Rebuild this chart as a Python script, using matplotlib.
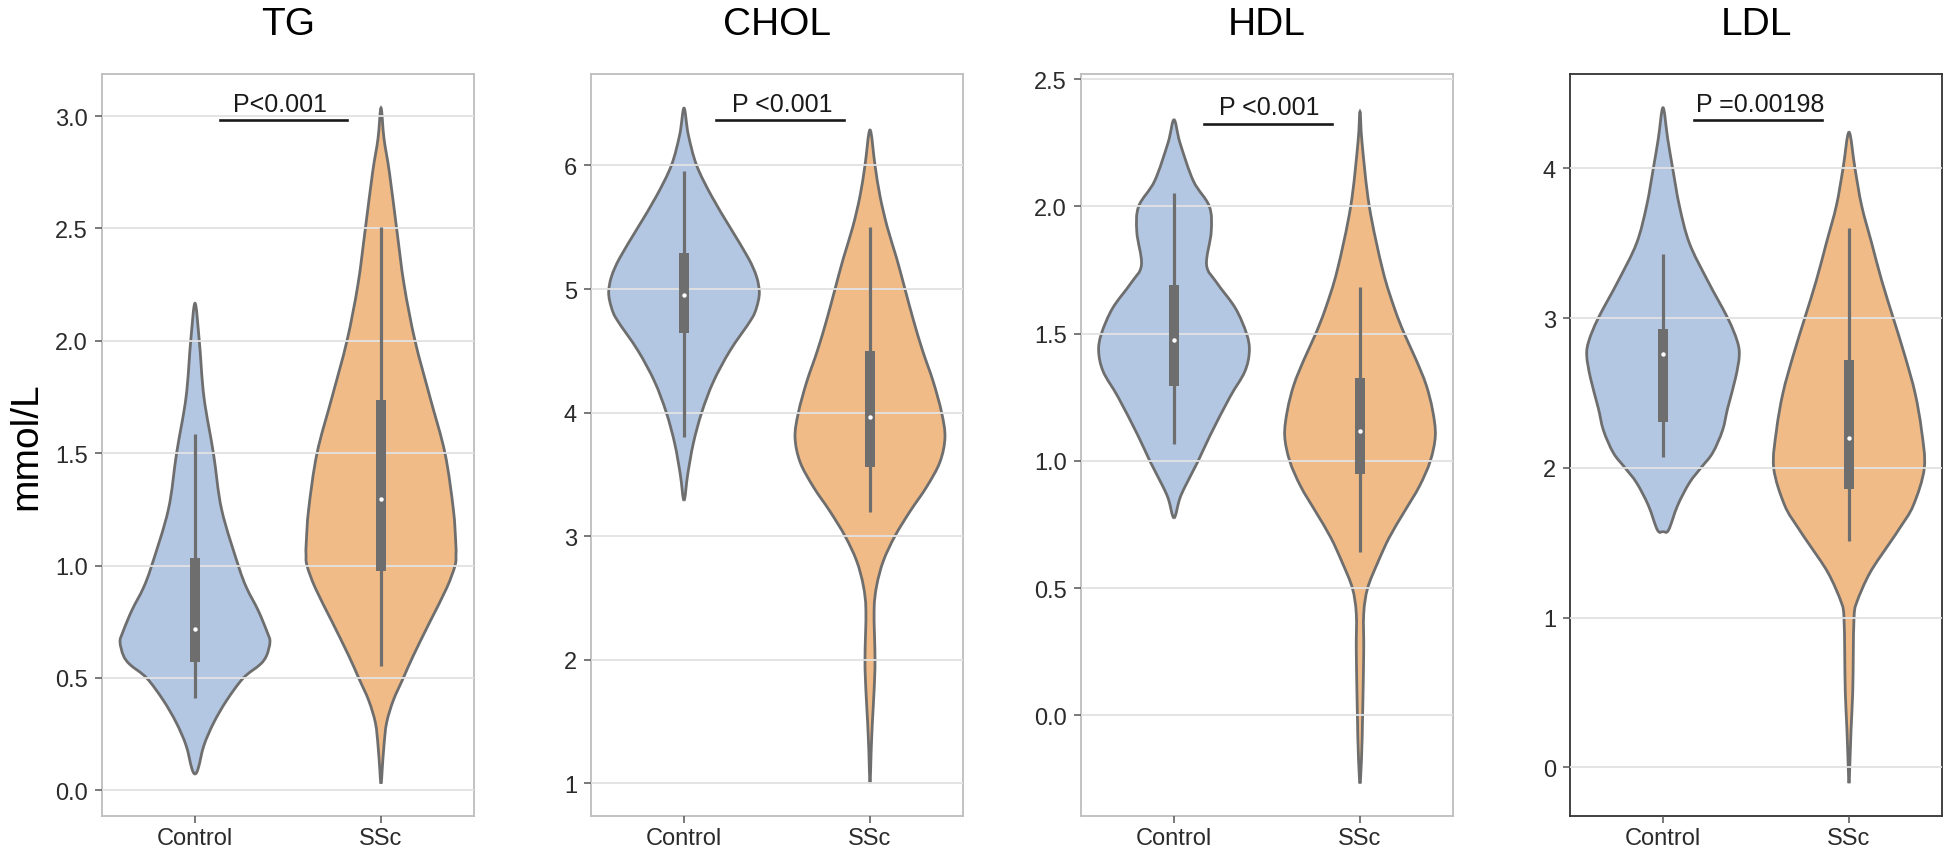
import numpy as np
import matplotlib
matplotlib.use('Agg')
import matplotlib.pyplot as plt
from matplotlib.patches import Rectangle, PathPatch
from matplotlib.path import Path

plt.rcParams['font.family'] = ['Liberation Sans', 'DejaVu Sans']

groups = ['Control', 'SSc']
panels = ['TG', 'CHOL', 'HDL', 'LDL']
pvals = ['P<0.001', 'P <0.001', 'P <0.001', 'P =0.00198']

# violin outlines: y level and half width (category units)
tg_ctrl_y = [0.073, 0.1, 0.2, 0.3, 0.4, 0.5, 0.56, 0.6, 0.66, 0.7, 0.8, 0.9, 1.0, 1.25, 1.5, 1.75, 2.0, 2.167]
tg_ctrl_w = [0, 0.018, 0.048, 0.10, 0.17, 0.26, 0.35, 0.385, 0.403, 0.39, 0.34, 0.278, 0.233, 0.143, 0.099, 0.048, 0.023, 0]
tg_ssc_y = [0.03, 0.1, 0.2, 0.3, 0.4, 0.5, 0.6, 0.75, 0.9, 1.0, 1.05, 1.1, 1.25, 1.5, 1.75, 2.0, 2.25, 2.5, 2.75, 2.9, 3.036]
tg_ssc_w = [0, 0.007, 0.016, 0.03, 0.066, 0.12, 0.174, 0.263, 0.353, 0.398, 0.403, 0.402, 0.389, 0.344, 0.263, 0.183, 0.124, 0.084, 0.045, 0.016, 0]

chol_ctrl_y = [3.29, 3.5, 3.75, 4.0, 4.25, 4.5, 4.75, 4.85, 4.97, 5.1, 5.25, 5.5, 5.75, 6.0, 6.25, 6.464]
chol_ctrl_w = [0, 0.02, 0.05, 0.095, 0.158, 0.247, 0.36, 0.39, 0.405, 0.39, 0.346, 0.247, 0.149, 0.068, 0.023, 0]
chol_ssc_y = [1.0, 1.25, 1.5, 1.75, 2.0, 2.4, 2.6, 2.8, 3.0, 3.2, 3.4, 3.6, 3.8, 4.0, 4.25, 4.5, 4.75, 5.0, 5.25, 5.5, 5.75, 6.0, 6.287]
chol_ssc_w = [0, 0.006, 0.013, 0.022, 0.027, 0.022, 0.036, 0.072, 0.134, 0.215, 0.305, 0.376, 0.403, 0.385, 0.34, 0.283, 0.233, 0.188, 0.143, 0.093, 0.054, 0.027, 0]

hdl_ctrl_y = [0.776, 0.85, 0.9, 1.0, 1.1, 1.25, 1.35, 1.43, 1.5, 1.6, 1.7, 1.77, 1.9, 2.0, 2.1, 2.25, 2.34]
hdl_ctrl_w = [0, 0.03, 0.06, 0.13, 0.194, 0.30, 0.38, 0.405, 0.39, 0.33, 0.23, 0.175, 0.2, 0.19, 0.104, 0.032, 0]
hdl_ssc_y = [-0.267, -0.15, 0.0, 0.25, 0.4, 0.5, 0.6, 0.7, 0.8, 0.9, 1.0, 1.1, 1.2, 1.3, 1.4, 1.5, 1.6, 1.75, 2.0, 2.25, 2.372]
hdl_ssc_w = [0, 0.009, 0.014, 0.02, 0.02, 0.041, 0.095, 0.158, 0.238, 0.319, 0.378, 0.405, 0.39, 0.355, 0.30, 0.238, 0.185, 0.122, 0.05, 0.011, 0]

ldl_ctrl_y = [1.575, 1.585, 1.75, 1.9, 2.0, 2.1, 2.25, 2.4, 2.6, 2.75, 2.85, 3.0, 3.25, 3.5, 3.75, 4.0, 4.2, 4.405]
ldl_ctrl_w = [0, 0.03, 0.079, 0.142, 0.204, 0.267, 0.32, 0.348, 0.39, 0.41, 0.398, 0.348, 0.24, 0.142, 0.088, 0.052, 0.025, 0]
ldl_ssc_y = [-0.106, 0.0, 0.25, 0.5, 0.75, 1.0, 1.1, 1.3, 1.5, 1.6, 1.75, 2.0, 2.25, 2.5, 2.75, 3.0, 3.25, 3.5, 3.75, 4.0, 4.241]
ldl_ssc_w = [0, 0.004, 0.011, 0.02, 0.023, 0.027, 0.041, 0.113, 0.22, 0.274, 0.346, 0.405, 0.39, 0.355, 0.30, 0.238, 0.176, 0.122, 0.068, 0.032, 0]

# box stats: lower whisker, q1, median, q3, upper whisker
tg_box = [[0.413, 0.571, 0.717, 1.032, 1.584], [0.554, 0.976, 1.295, 1.737, 2.507]]
chol_box = [[3.80, 4.644, 4.949, 5.293, 5.956], [3.195, 3.557, 3.968, 4.498, 5.50]]
hdl_box = [[1.067, 1.295, 1.476, 1.69, 2.052], [0.644, 0.947, 1.118, 1.327, 1.683]]
ldl_box = [[2.071, 2.304, 2.757, 2.924, 3.428], [1.513, 1.86, 2.199, 2.72, 3.603]]

# significance bar: x from, x to, y, text x
tg_sig = [0.134, 0.817, 2.983, 0.457]
chol_sig = [0.17, 0.86, 6.367, 0.527]
hdl_sig = [0.16, 0.85, 2.325, 0.514]
ldl_sig = [0.167, 0.855, 4.325, 0.52]

tg_ticks = [0.0, 0.5, 1.0, 1.5, 2.0, 2.5, 3.0]
chol_ticks = [1, 2, 3, 4, 5, 6]
hdl_ticks = [0.0, 0.5, 1.0, 1.5, 2.0, 2.5]
ldl_ticks = [0, 1, 2, 3, 4]

ylims = [(-0.114, 3.187), (0.735, 6.74), (-0.395, 2.52), (-0.325, 4.63)]

violins = [
    [(tg_ctrl_y, tg_ctrl_w), (tg_ssc_y, tg_ssc_w)],
    [(chol_ctrl_y, chol_ctrl_w), (chol_ssc_y, chol_ssc_w)],
    [(hdl_ctrl_y, hdl_ctrl_w), (hdl_ssc_y, hdl_ssc_w)],
    [(ldl_ctrl_y, ldl_ctrl_w), (ldl_ssc_y, ldl_ssc_w)],
]
boxes = [tg_box, chol_box, hdl_box, ldl_box]
sigs = [tg_sig, chol_sig, hdl_sig, ldl_sig]
ticks = [tg_ticks, chol_ticks, hdl_ticks, ldl_ticks]
ticklabels = [['%.1f' % t for t in tg_ticks], [str(t) for t in chol_ticks],
              ['%.1f' % t for t in hdl_ticks], [str(t) for t in ldl_ticks]]

fills = ['#b3c7e3', '#f0bb87']
edge = '#6e6e6e'


def smooth_outline(xs, ys):
    # closed curve through the read points, drawn as bezier segments
    P = np.column_stack([xs, ys])
    n = len(P)
    verts = [P[0]]
    codes = [Path.MOVETO]
    for k in range(n):
        p0, p1, p2, p3 = P[k - 1], P[k], P[(k + 1) % n], P[(k + 2) % n]
        verts += [p1 + (p2 - p0) / 6.0, p2 - (p3 - p1) / 6.0, p2]
        codes += [Path.CURVE4] * 3
    return Path(verts, codes)


fig = plt.figure(figsize=(19.46, 8.54), dpi=100)
W, H = 1946.0, 854.0
lefts = [102, 591, 1081, 1570]

for i in range(4):
    ax = fig.add_axes([lefts[i] / W, (H - 817) / H, 372 / W, 742 / H])

    for j in range(2):
        y = np.array(violins[i][j][0])
        w = np.array(violins[i][j][1])
        # right side going up, left side coming down (tips shared)
        xs = np.concatenate([j + w, (j - w)[-2:0:-1]])
        ys = np.concatenate([y, y[-2:0:-1]])
        ax.add_patch(PathPatch(smooth_outline(xs, ys), facecolor=fills[j], edgecolor=edge,
                               linewidth=2.0, zorder=1))

        lo, q1, med, q3, hi = boxes[i][j]
        ax.plot([j, j], [lo, hi], color=edge, linewidth=2.3, solid_capstyle='butt', zorder=3)
        ax.add_patch(Rectangle((j - 0.025, q1), 0.05, q3 - q1, facecolor=edge, edgecolor='none', zorder=3))
        ax.plot(j, med, 'o', color='white', markersize=3.2, markeredgewidth=0, zorder=4)

    x1, x2, ys_, xt = sigs[i]
    ax.plot([x1, x2], [ys_, ys_], color='#1a1a1a', linewidth=1.9, zorder=5)
    ax.annotate(pvals[i], xy=(xt, ys_), xytext=(0, 3), textcoords='offset points',
                ha='center', va='bottom', fontsize=18, color='#1a1a1a', zorder=5)

    ax.set_xlim(-0.5, 1.5)
    ax.set_ylim(*ylims[i])
    ax.set_xticks([0, 1])
    ax.set_xticklabels(groups)
    ax.set_yticks(ticks[i])
    ax.set_yticklabels(ticklabels[i])
    ax.tick_params(axis='both', labelsize=17, labelcolor='#2b2b2b', color='#555555',
                   length=5, width=1.1)
    ax.tick_params(axis='x', pad=3)
    ax.tick_params(axis='y', pad=5)

    ax.set_axisbelow(False)
    ax.grid(axis='y', color='#e2e2e2', linewidth=1.3)
    ax.grid(axis='x', visible=False)

    spine_c = '#333333' if i == 3 else '#bdbdbd'
    for s in ax.spines.values():
        s.set_color(spine_c)
        s.set_linewidth(1.3)

    ax.set_title(panels[i], fontsize=28, pad=29)

    if i == 0:
        ax.set_ylabel('mmol/L', fontsize=28, labelpad=8)

fig.savefig('out.png', dpi=100)
